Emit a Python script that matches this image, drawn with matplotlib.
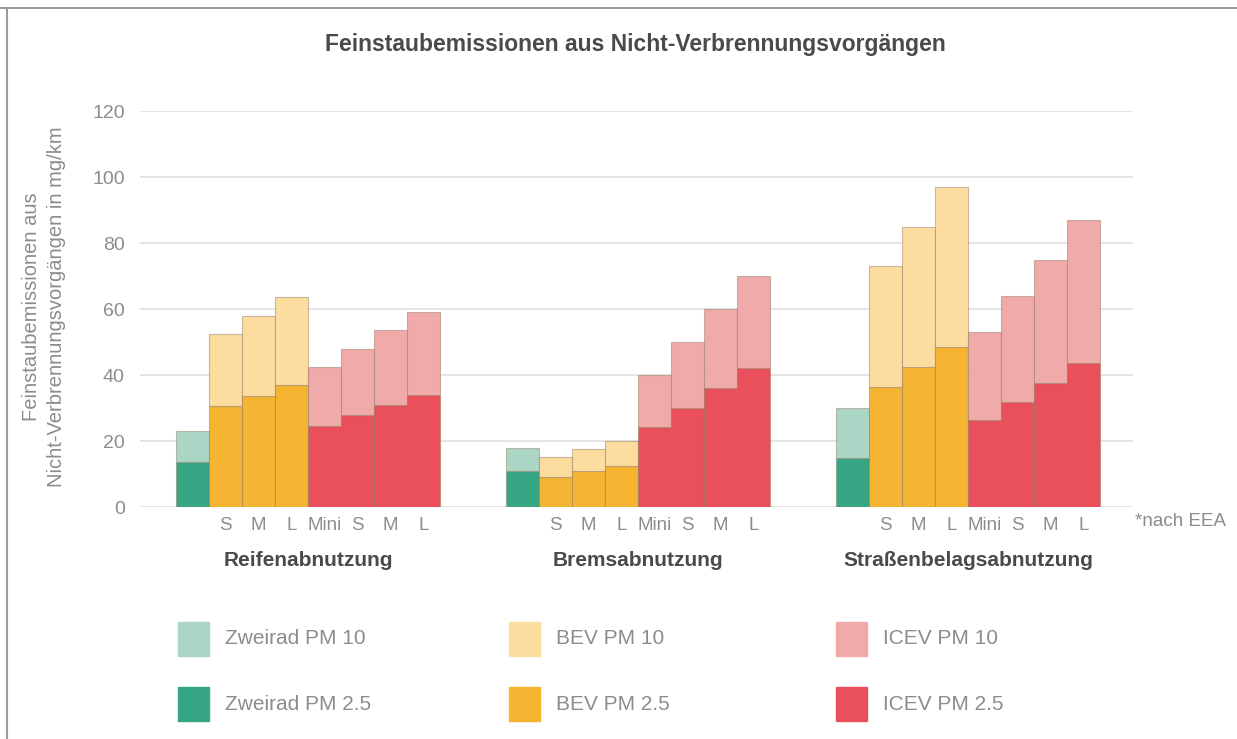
import numpy as np
import matplotlib
matplotlib.use("Agg")
from matplotlib import pyplot as plt
from matplotlib.patches import Rectangle
from matplotlib.lines import Line2D

plt.rcParams['font.family'] = ['Liberation Sans', 'DejaVu Sans']

# values (mg/km); PM10 contains PM2.5
groups = ['Reifenabnutzung', 'Bremsabnutzung', 'Straßenbelagsabnutzung']
bar_labels = ['', 'S', 'M', 'L', 'Mini', 'S', 'M', 'L']
vehicle = ['Zweirad', 'BEV', 'BEV', 'BEV', 'ICEV', 'ICEV', 'ICEV', 'ICEV']

reifen_pm10 = [23, 52.5, 58, 63.5, 42.5, 48, 53.5, 59]
reifen_pm25 = [13.5, 30.5, 33.5, 37, 24.5, 28, 31, 34]
brems_pm10 = [18, 15.2, 17.6, 20, 40, 50, 60, 70]
brems_pm25 = [11, 9, 10.8, 12.3, 24.2, 30, 36, 42.2]
strasse_pm10 = [30, 73, 85, 97, 53, 64, 75, 87]
strasse_pm25 = [15, 36.5, 42.5, 48.5, 26.5, 31.8, 37.5, 43.5]

pm10 = [reifen_pm10, brems_pm10, strasse_pm10]
pm25 = [reifen_pm25, brems_pm25, strasse_pm25]

col10 = {'Zweirad': '#a9d6c5', 'BEV': '#fcdc9f', 'ICEV': '#f1aaaa'}
col25 = {'Zweirad': '#37a685', 'BEV': '#f5b431', 'ICEV': '#e9505b'}

legend_labels = [['Zweirad PM 10', 'BEV PM 10', 'ICEV PM 10'],
                 ['Zweirad PM 2.5', 'BEV PM 2.5', 'ICEV PM 2.5']]
legend_keys = ['Zweirad', 'BEV', 'ICEV']

W, H = 1237, 739
fig = plt.figure(figsize=(W / 100, H / 100), dpi=100)
ax = fig.add_axes([140 / W, 1 - 507 / H, (1133 - 140) / W, (507 - 111) / H])

edge = (0.55, 0.45, 0.35, 0.45)
xt, xl = [], []
for g in range(3):
    for i in range(8):
        x = g * 10 + i
        v = vehicle[i]
        ax.bar(x, pm25[g][i], width=1, align='edge', color=col25[v],
               edgecolor=edge, linewidth=0.8, zorder=3)
        ax.bar(x, pm10[g][i] - pm25[g][i], bottom=pm25[g][i], width=1,
               align='edge', color=col10[v], edgecolor=edge, linewidth=0.8,
               zorder=3)
        if bar_labels[i]:
            xt.append(x + 0.5)
            xl.append(bar_labels[i])
    ax.text(g * 10 + 4, -0.135, groups[g], transform=ax.get_xaxis_transform(),
            ha='center', va='center', fontsize=15, fontweight='bold',
            color='#4a4a4a')

ax.set_xlim(-1.09, 29.0)
ax.set_ylim(0, 120)
ax.set_yticks(range(0, 121, 20))
ax.set_xticks(xt)
ax.set_xticklabels(xl)
ax.tick_params(axis='y', length=0, pad=11, labelsize=14, labelcolor='#8c8c8c')
ax.tick_params(axis='x', length=0, pad=7, labelsize=13.5, labelcolor='#8c8c8c')
ax.grid(axis='y', color='#dcdcdc', linewidth=1.1, zorder=0)
ax.set_axisbelow(True)
for s in ax.spines.values():
    s.set_visible(False)

fig.text(1135 / W, 1 - 522 / H, '*nach EEA', fontsize=13.5, color='#8c8c8c',
         ha='left', va='center')

fig.text(635 / W, 1 - 45 / H, 'Feinstaubemissionen aus Nicht-Verbrennungsvorgängen',
         ha='center', va='center', fontsize=16.5, fontweight='bold', color='#4a4a4a')

fig.text(44 / W, 1 - 307 / H,
         'Feinstaubemissionen aus\nNicht-Verbrennungsvorgängen in mg/km',
         rotation=90, ha='center', va='center', multialignment='center',
         fontsize=14.5, color='#8c8c8c', linespacing=1.35)

# legend, 3 columns x 2 rows
sq_x = [178, 509, 836]
row_y = [639, 704]
for r in range(2):
    for c in range(3):
        colr = col10 if r == 0 else col25
        fig.add_artist(Rectangle((sq_x[c] / W, 1 - (row_y[r] + 17) / H),
                                 31 / W, 34 / H, transform=fig.transFigure,
                                 color=colr[legend_keys[c]]))
        fig.text((sq_x[c] + 47) / W, 1 - row_y[r] / H, legend_labels[r][c],
                 ha='left', va='center', fontsize=15, color='#8c8c8c')

# light frame on top and left
fig.add_artist(Line2D([0, 1], [1 - 8 / H, 1 - 8 / H], transform=fig.transFigure,
                      color='#9a9a9a', linewidth=1.5))
fig.add_artist(Line2D([7 / W, 7 / W], [0, 1 - 8 / H], transform=fig.transFigure,
                      color='#9a9a9a', linewidth=1.5))

fig.savefig('out.png', dpi=100, facecolor='white')
